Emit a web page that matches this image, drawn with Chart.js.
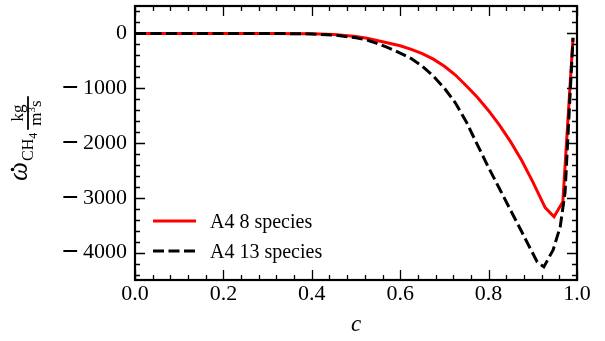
<!DOCTYPE html>
<html>
<head>
<meta charset="utf-8">
<script src="https://cdn.jsdelivr.net/npm/chart.js@4.4.1/dist/chart.umd.min.js"></script>
<style>
    html, body { margin: 0; padding: 0; background: #fff; }
    #wrap { width: 605px; height: 341px; }
    /* wider math minus for the tick labels only */
    @font-face {
        font-family: "TickMinus";
        src: local("DejaVu Serif"), local("DejaVuSerif");
        unicode-range: U+2212;
    }
</style>
</head>
<body>
<div id="wrap"><canvas id="rateChart" width="605" height="341"></canvas></div>
<script>
/* Progress variable c and CH4 source term for the two mechanisms */
const cRed = [0, 0.1, 0.2, 0.3, 0.4, 0.45, 0.5, 0.525, 0.55, 0.575, 0.6, 0.625, 0.65, 0.675, 0.7, 0.725, 0.75, 0.775, 0.8, 0.825, 0.85, 0.875, 0.9, 0.928, 0.948, 0.968, 0.991];
const wRed = [0, 0, 0, 0, -5, -18, -55, -90, -135, -180, -225, -290, -370, -470, -600, -760, -960, -1170, -1410, -1680, -1980, -2320, -2710, -3180, -3345, -3070, -80];

const cBlack = [0, 0.1, 0.2, 0.3, 0.4, 0.45, 0.5, 0.525, 0.55, 0.575, 0.6, 0.625, 0.65, 0.675, 0.7, 0.725, 0.75, 0.775, 0.8, 0.825, 0.85, 0.875, 0.89, 0.91, 0.925, 0.946, 0.962, 0.973, 0.991];
const wBlack = [0, 0, 0, 0, -10, -30, -80, -120, -190, -270, -360, -460, -600, -780, -1000, -1270, -1620, -2040, -2450, -2840, -3230, -3620, -3860, -4170, -4260, -3950, -3530, -2900, -80];

const seriesLabels = ["A4 8 species", "A4 13 species"];

const xTicks = [0, 0.2, 0.4, 0.6, 0.8, 1.0];
const yTicks = [-4000, -3000, -2000, -1000, 0];

const SERIF = "'Liberation Serif', 'Times New Roman', serif";
const TICK_FONT = "TickMinus, " + SERIF;

/* Inward ticks on all four sides plus the box frame */
const framePlugin = {
    id: "frame",
    afterDraw(chart) {
        const { ctx, chartArea: a, scales } = chart;
        const xs = scales.x, ys = scales.y;
        ctx.save();
        ctx.strokeStyle = "#000";
        ctx.lineWidth = 1.3;
        ctx.beginPath();
        // x ticks (minor every 0.04)
        for (let i = 0; i <= 25; i++) {
            const v = i * 0.04;
            const px = Math.round(xs.getPixelForValue(v)) + 0.5;
            const len = i % 5 === 0 ? 10 : 5;
            ctx.moveTo(px, a.bottom); ctx.lineTo(px, a.bottom - len);
            ctx.moveTo(px, a.top); ctx.lineTo(px, a.top + len);
        }
        // y ticks (minor every 200)
        for (let v = -4400; v <= 400; v += 200) {
            const py = Math.round(ys.getPixelForValue(v)) + 0.5;
            const len = v % 1000 === 0 ? 10 : 5;
            ctx.moveTo(a.left, py); ctx.lineTo(a.left + len, py);
            ctx.moveTo(a.right, py); ctx.lineTo(a.right - len, py);
        }
        ctx.stroke();
        ctx.lineWidth = 2.2;
        ctx.strokeRect(a.left, a.top, a.right - a.left, a.bottom - a.top);
        ctx.restore();
    },
};

/* Legend inside the plot, lower left */
const legendPlugin = {
    id: "innerLegend",
    afterDraw(chart) {
        const { ctx } = chart;
        const rows = [221, 251];
        ctx.save();
        chart.data.datasets.forEach((ds, i) => {
            const y = rows[i];
            ctx.strokeStyle = ds.borderColor;
            ctx.lineWidth = ds.borderWidth;
            ctx.setLineDash(ds.borderDash || []);
            ctx.beginPath();
            ctx.moveTo(153, y);
            ctx.lineTo(196, y);
            ctx.stroke();
            ctx.setLineDash([]);
            ctx.fillStyle = "#000";
            ctx.font = "20px " + SERIF;
            ctx.textBaseline = "alphabetic";
            ctx.textAlign = "left";
            ctx.fillText(ds.label, 210, y + 7);
        });
        ctx.restore();
    },
};

/* Y axis title: omega-dot with CH4 subscript and kg/(m^3 s) unit fraction */
const yTitlePlugin = {
    id: "yTitle",
    afterDraw(chart) {
        const { ctx } = chart;
        ctx.save();
        ctx.translate(27, 181);
        ctx.rotate(-Math.PI / 2);
        ctx.fillStyle = "#000";
        ctx.strokeStyle = "#000";
        ctx.textBaseline = "alphabetic";
        ctx.textAlign = "left";

        ctx.font = "italic 27px " + SERIF;
        const wOmega = ctx.measureText("\u03C9").width;
        ctx.fillText("\u03C9", 0, 0);
        ctx.beginPath();
        ctx.arc(wOmega / 2 + 2, -14.5, 1.8, 0, Math.PI * 2);
        ctx.fill();

        let x = wOmega + 1;
        ctx.font = "16px " + SERIF;
        ctx.fillText("CH", x, 6);
        x += ctx.measureText("CH").width;
        ctx.font = "12px " + SERIF;
        ctx.fillText("4", x, 10);
        x += ctx.measureText("4").width + 3;

        // fraction
        ctx.font = "17px " + SERIF;
        const wNum = ctx.measureText("kg").width;
        const wM = ctx.measureText("m").width;
        const wS = ctx.measureText("s").width;
        ctx.font = "11px " + SERIF;
        const w3 = ctx.measureText("3").width;
        const wDen = wM + w3 + wS;
        const barLen = Math.max(wNum, wDen) + 8;
        const mid = x + barLen / 2;
        ctx.lineWidth = 1.8;
        ctx.beginPath();
        ctx.moveTo(x, 1);
        ctx.lineTo(x + barLen, 1);
        ctx.stroke();
        ctx.font = "17px " + SERIF;
        ctx.fillText("kg", mid - wNum / 2, -4);
        let dx = mid - wDen / 2;
        ctx.fillText("m", dx, 14);
        dx += wM;
        ctx.font = "11px " + SERIF;
        ctx.fillText("3", dx, 8);
        dx += w3;
        ctx.font = "17px " + SERIF;
        ctx.fillText("s", dx, 14);
        ctx.restore();
    },
};

function minusSign(v) {
    return v < 0 ? "\u2212\u2009" + Math.abs(v) : String(v);
}

function renderRateChart(canvasId) {
    const canvas = document.getElementById(canvasId);
    if (!canvas) return;

    new Chart(canvas, {
        type: "line",
        data: {
            datasets: [
                {
                    label: seriesLabels[0],
                    data: cRed.map((c, i) => ({ x: c, y: wRed[i] })),
                    borderColor: "#ff0000",
                    borderWidth: 3,
                    pointRadius: 0,
                    tension: 0,
                    order: 1,
                },
                {
                    label: seriesLabels[1],
                    data: cBlack.map((c, i) => ({ x: c, y: wBlack[i] })),
                    borderColor: "#000000",
                    borderWidth: 3,
                    borderDash: [11, 4.5],
                    pointRadius: 0,
                    tension: 0,
                    order: 0,
                },
            ],
        },
        options: {
            responsive: false,
            animation: false,
            devicePixelRatio: 1,
            layout: { padding: { top: 6, right: 28, left: 0, bottom: 0 } },
            plugins: {
                legend: { display: false },
                tooltip: { enabled: false },
            },
            scales: {
                x: {
                    type: "linear",
                    min: 0,
                    max: 1,
                    afterBuildTicks: s => { s.ticks = xTicks.map(v => ({ value: v })); },
                    afterFit: s => { s.height = 61; s.paddingLeft = 0; s.paddingRight = 0; },
                    grid: { display: false, drawTicks: false },
                    border: { display: false },
                    ticks: {
                        color: "#000",
                        font: { family: SERIF, size: 22 },
                        padding: 1,
                        maxRotation: 0,
                        callback: v => Number(v).toFixed(1),
                    },
                    title: {
                        display: true,
                        text: "c",
                        color: "#000",
                        font: { family: SERIF, size: 23, style: "italic" },
                        padding: { top: 0, bottom: 2 },
                    },
                },
                y: {
                    type: "linear",
                    min: -4500,
                    max: 500,
                    afterBuildTicks: s => { s.ticks = yTicks.map(v => ({ value: v })); },
                    afterFit: s => { s.width = 135; s.paddingTop = 0; s.paddingBottom = 0; },
                    grid: { display: false, drawTicks: false },
                    border: { display: false },
                    ticks: {
                        color: "#000",
                        font: { family: TICK_FONT, size: 22 },
                        padding: 8,
                        callback: v => minusSign(v),
                    },
                },
            },
        },
        plugins: [framePlugin, legendPlugin, yTitlePlugin],
    });
}

document.addEventListener("DOMContentLoaded", () => {
    /* make sure the minus face is ready before the canvas draws text */
    document.fonts.load("22px TickMinus", "\u2212")
        .catch(() => null)
        .then(() => renderRateChart("rateChart"));
});
</script>
</body>
</html>
